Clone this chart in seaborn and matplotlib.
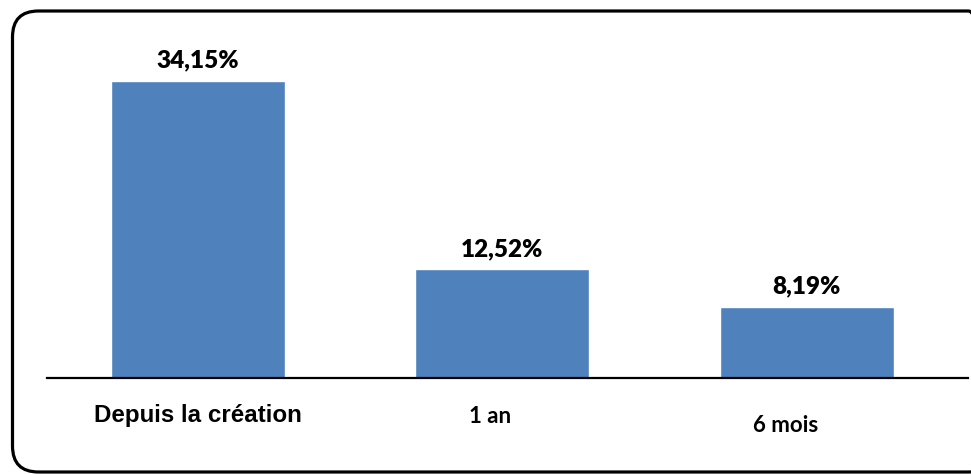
import matplotlib
matplotlib.use("Agg")
import matplotlib.pyplot as plt
import matplotlib.patches as mpatches
from matplotlib.transforms import IdentityTransform
import seaborn as sns

# Chart data
categories = ["Depuis la création", "1 an", "6 mois"]
values = [34.15, 12.52, 8.19]
value_labels = ["34,15%", "12,52%", "8,19%"]

BAR_COLOR = "#4F81BD"

sns.set_style("white")

fig = plt.figure(figsize=(9.71, 4.74), dpi=100)
ax = fig.add_axes([0.0484, 0.2025, 0.9485, 0.713])

sns.barplot(x=categories, y=values, color=BAR_COLOR, saturation=1,
            width=0.572, ax=ax)

ax.set_xlim(-0.497, 2.53)
ax.set_ylim(0, 38.85)

# only the baseline is visible
for side in ["top", "left", "right"]:
    ax.spines[side].set_visible(False)
ax.spines["bottom"].set_color("black")
ax.spines["bottom"].set_linewidth(1.6)
ax.set_yticks([])
ax.set_xticks([])
ax.set_xlabel("")
ax.set_ylabel("")

# value labels above bars
for i, (v, lab) in enumerate(zip(values, value_labels)):
    ax.annotate(lab, (i, v), xytext=(0, 14.5), textcoords="offset points",
                ha="center", va="center", fontsize=17.5, fontweight="heavy",
                family="Lato", color="black")

# category labels (mixed fonts as in the original)
trans = ax.get_xaxis_transform()
label_style = [
    dict(dx=0.0, y=-0.110, family="Liberation Sans", size=17.4),
    dict(dx=-0.04, y=-0.113, family="Lato", size=16),
    dict(dx=-0.07, y=-0.141, family="Lato", size=16),
]
for i, (cat, st) in enumerate(zip(categories, label_style)):
    ax.text(i + st["dx"], st["y"], cat, transform=trans, ha="center",
            va="center", fontsize=st["size"], fontweight="bold",
            family=st["family"], color="black")

# rounded frame around the whole chart (right side runs off the image)
frame = mpatches.FancyBboxPatch((12.5, 2), 982, 461,
                                boxstyle="round,pad=0,rounding_size=26",
                                transform=IdentityTransform(),
                                fill=False, edgecolor="black", linewidth=2.3)
fig.patches.append(frame)

fig.savefig("out.png", dpi=100)
